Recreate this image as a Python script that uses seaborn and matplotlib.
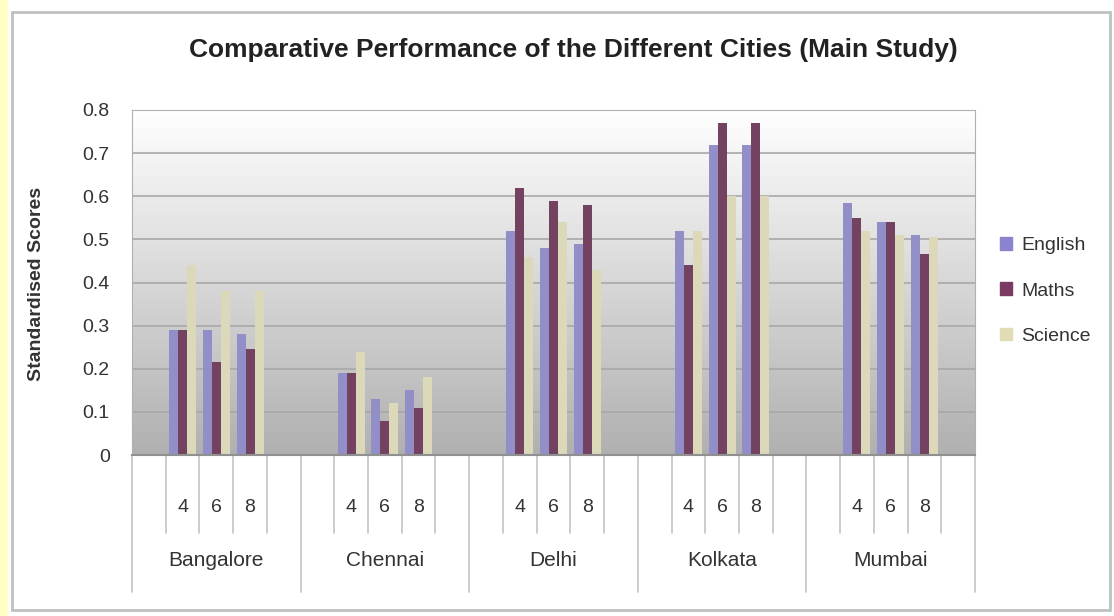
import numpy as np
import pandas as pd
import matplotlib
matplotlib.use("Agg")
import matplotlib.pyplot as plt
import matplotlib.patches as mpatches
import matplotlib.transforms as mtransforms
import seaborn as sns

# data
cities = ["Bangalore", "Chennai", "Delhi", "Kolkata", "Mumbai"]
grades = ["4", "6", "8"]
subjects = ["English", "Maths", "Science"]
english = [0.29, 0.29, 0.28, 0.19, 0.13, 0.15, 0.52, 0.48, 0.49, 0.52, 0.72, 0.72, 0.585, 0.54, 0.51]
maths = [0.29, 0.215, 0.245, 0.19, 0.08, 0.11, 0.62, 0.59, 0.58, 0.44, 0.77, 0.77, 0.55, 0.54, 0.465]
science = [0.44, 0.38, 0.38, 0.24, 0.12, 0.18, 0.46, 0.54, 0.43, 0.52, 0.60, 0.60, 0.52, 0.51, 0.505]
yticks = [0, 0.1, 0.2, 0.3, 0.4, 0.5, 0.6, 0.7, 0.8]
ytick_labels = ["0", "0.1", "0.2", "0.3", "0.4", "0.5", "0.6", "0.7", "0.8"]

# long format; each city gets a blank slot on either side (as in the Excel axis)
rows = []
for i, city in enumerate(cities):
    for j, g in enumerate(grades):
        k = i * 3 + j
        for subj, vals in zip(subjects, [english, maths, science]):
            rows.append({"slot": city + " " + g, "Subject": subj, "Score": vals[k]})
df = pd.DataFrame(rows)

order = []
for city in cities:
    order += [city + " a"] + [city + " " + g for g in grades] + [city + " b"]

sns.set_style("white")
plt.rcParams["font.family"] = ["Liberation Sans", "DejaVu Sans"]

colors = {"English": "#8a84d0", "Maths": "#7a3a62", "Science": "#e2dcb4"}

fig = plt.figure(figsize=(11.14, 6.16), dpi=100)
ax = fig.add_axes([132 / 1114, 1 - 455 / 616, (975 - 132) / 1114, (455 - 110) / 616])

sns.barplot(data=df, x="slot", y="Score", hue="Subject", order=order,
            hue_order=subjects, palette=colors, width=0.8, ax=ax,
            edgecolor="none", legend=False)

# grey gradient plot area
grad = np.linspace(1.0, 0.0, 256).reshape(-1, 1)
ax.imshow(grad, cmap=plt.matplotlib.colors.LinearSegmentedColormap.from_list(
    "bg", ["#b0b0b0", "#ffffff"]), extent=[-0.5, len(order) - 0.5, 0, 0.8],
    aspect="auto", zorder=0, vmin=0, vmax=1)
ax.set_xlim(-0.5, len(order) - 0.5)
ax.set_ylim(0, 0.8)

ax.set_yticks(yticks)
ax.set_yticklabels(ytick_labels, fontsize=14, color="#333333")
ax.yaxis.grid(True, color="#a8a8a8", linewidth=1.2)
ax.set_axisbelow(True)
ax.tick_params(axis="y", length=0, pad=16)
ax.set_xticks([])
ax.set_xlabel("")
ax.set_ylabel("")
for s in ["left", "right", "top"]:
    ax.spines[s].set_color("#b0b0b0")
ax.spines["bottom"].set_color("#909090")
ax.spines["bottom"].set_linewidth(1.5)

# multi-level category axis
tr = mtransforms.blended_transform_factory(ax.transData, fig.transFigure)
y_base = 1 - 455 / 616
y_inner = 1 - 533 / 616
y_outer = 1 - 592 / 616
for b in range(len(order) + 1):
    x = b - 0.5
    is_city = (b % 5 == 0)
    ax.plot([x, x], [y_base, y_outer if is_city else y_inner], transform=tr,
            color="#c4c4c4", lw=1.2, clip_on=False)
for i, city in enumerate(cities):
    for j, g in enumerate(grades):
        ax.text(i * 5 + 1 + j, 1 - 508 / 616, g, transform=tr, ha="center",
                va="center", fontsize=14, color="#333333")
    ax.text(i * 5 + 2, 1 - 560 / 616, city, transform=tr, ha="center",
            va="center", fontsize=15, color="#333333")

fig.text(0.515, 1 - 50 / 616, "Comparative Performance of the Different Cities (Main Study)",
         ha="center", va="center", fontsize=19, fontweight="bold", color="#222222")
fig.text(37 / 1114, 1 - 284 / 616, "Standardised Scores", rotation=90,
         ha="center", va="center", fontsize=14, fontweight="bold", color="#333333")

handles = [mpatches.Patch(color=colors[s], label=s) for s in subjects]
fig.legend(handles=handles, loc="center left", bbox_to_anchor=(0.882, 1 - 291 / 616),
           frameon=False, fontsize=14, handlelength=0.6, handleheight=0.6,
           labelspacing=1.45, handletextpad=0.5, labelcolor="#333333")

# outer chart frame with the yellow strip on the left
fig.patches.append(mpatches.Rectangle((0, 0), 7 / 1114, 1, transform=fig.transFigure,
                                      color="#ffffc6", zorder=0))
fig.patches.append(mpatches.Rectangle((12 / 1114, 6 / 616), 1 - 16 / 1114, 1 - 18 / 616,
                                      transform=fig.transFigure, fill=False,
                                      edgecolor="#c0c0c0", lw=2, zorder=0))

plt.savefig("out.png", dpi=100)
